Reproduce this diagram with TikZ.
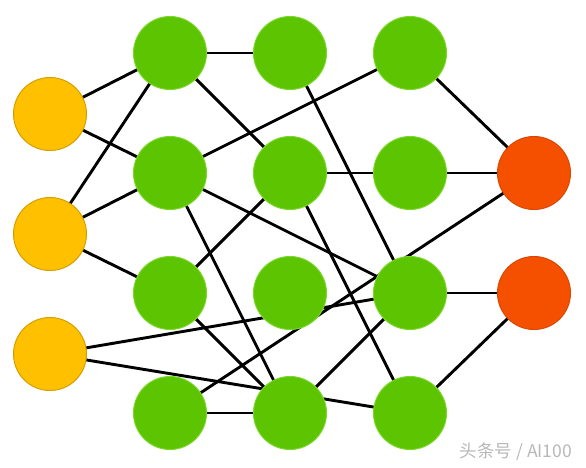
\documentclass[tikz,border=0pt]{standalone}
\usepackage{fontspec}
\usetikzlibrary{backgrounds}
\newfontfamily\cjk{Noto Sans CJK SC}
\definecolor{inyel}{HTML}{FFC000}
\definecolor{inyelb}{HTML}{D4A000}
\definecolor{hgreen}{HTML}{5CC400}
\definecolor{hgreenb}{HTML}{7AD82A}
\definecolor{outred}{HTML}{F55000}
\definecolor{outredb}{HTML}{D94800}
\definecolor{wmgray}{HTML}{B8B8B8}
\tikzset{
  neuron/.style={circle, minimum size=73pt, inner sep=0pt, line width=1pt},
  innode/.style={neuron, fill=inyel, draw=inyelb},
  hidnode/.style={neuron, fill=hgreen, draw=hgreenb},
  outnode/.style={neuron, fill=outred, draw=outredb},
  link/.style={line width=2.9pt, black},
  wmark/.style={text=wmgray, font=\cjk\fontsize{17.5}{20}\selectfont, inner sep=0pt}
}
\begin{document}
\begin{tikzpicture}[x=1pt,y=-1pt]
\useasboundingbox (0,0) rectangle (586,468);
% nodes
\node[innode] (I1) at (50,114) {};
\node[innode] (I2) at (50,234) {};
\node[innode] (I3) at (50,354) {};
\node[hidnode] (A1) at (170,53) {};
\node[hidnode] (A2) at (170,173) {};
\node[hidnode] (A3) at (170,293) {};
\node[hidnode] (A4) at (170,413) {};
\node[hidnode] (B1) at (290,53) {};
\node[hidnode] (B2) at (290,173) {};
\node[hidnode] (B3) at (290,293) {};
\node[hidnode] (B4) at (290,413) {};
\node[hidnode] (C1) at (410,53) {};
\node[hidnode] (C2) at (410,173) {};
\node[hidnode] (C3) at (410,293) {};
\node[hidnode] (C4) at (410,413) {};
\node[outnode] (O1) at (534,173) {};
\node[outnode] (O2) at (534,293) {};
% watermark
\node[wmark] (wm) at (516,452) {头条号 / AI100};
% connectors behind nodes
\begin{scope}[on background layer]
\fill[white] (0,0) rectangle (586,468);
\draw[link] (I1.center) -- (A1.center);
\draw[link] (I1.center) -- (A2.center);
\draw[link] (I2.center) -- (A1.center);
\draw[link] (I2.center) -- (A2.center);
\draw[link] (I2.center) -- (A3.center);
\draw[link] (I3.center) -- (C3.center);
\draw[link] (I3.center) -- (C4.center);
\draw[link] (A1.center) -- (B1.center);
\draw[link] (A1.center) -- (B2.center);
\draw[link] (A2.center) -- (C1.center);
\draw[link] (A2.center) -- (C3.center);
\draw[link] (A2.center) -- (B4.center);
\draw[link] (A3.center) -- (B2.center);
\draw[link] (A3.center) -- (B4.center);
\draw[link] (A4.center) -- (B4.center);
\draw[link] (A4.center) -- (O1.center);
\draw[link] (B1.center) -- (C3.center);
\draw[link] (B2.center) -- (C2.center);
\draw[link] (B2.center) -- (C4.center);
\draw[link] (B4.center) -- (C3.center);
\draw[link] (C1.center) -- (O1.center);
\draw[link] (C2.center) -- (O1.center);
\draw[link] (C3.center) -- (O2.center);
\draw[link] (C4.center) -- (O2.center);
\end{scope}
\end{tikzpicture}
\end{document}
